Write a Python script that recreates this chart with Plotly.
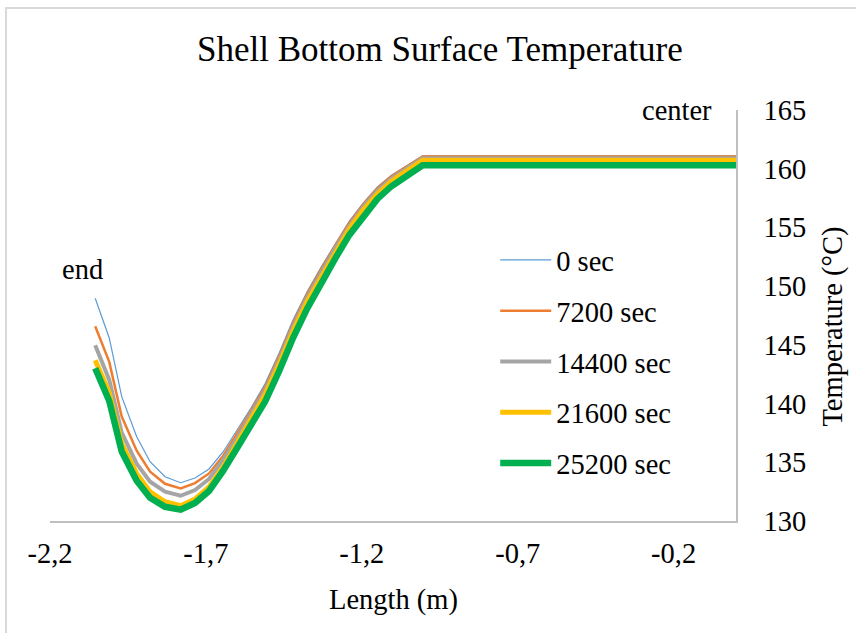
import plotly.graph_objects as go

# Position along the shell bottom (m), from the end (-2.2) to the center (0)
length_m = [-2.055, -2.010, -1.970, -1.922, -1.879, -1.831, -1.781, -1.735, -1.690,
            -1.645, -1.600, -1.555, -1.510, -1.465, -1.420, -1.375, -1.330, -1.285,
            -1.240, -1.195, -1.150, -1.105, -1.055, -1.005, 0.0]

# Surface temperature (°C) at each time step
temp_0 = [148.97, 145.59, 140.59, 137.18, 135.05, 133.77, 133.26, 133.66, 134.43,
          135.88, 137.75, 139.63, 141.70, 144.30, 147.15, 149.55, 151.65, 153.65,
          155.55, 157.10, 158.45, 159.45, 160.30, 161.10, 161.10]
temp_7200 = [146.58, 143.55, 138.89, 135.99, 134.20, 133.17, 132.78, 133.23, 134.05,
             135.54, 137.45, 139.37, 141.44, 144.04, 146.89, 149.34, 151.44, 153.48,
             155.38, 156.97, 158.32, 159.36, 160.21, 161.05, 161.05]
temp_14400 = [144.97, 142.01, 137.52, 134.88, 133.35, 132.49, 132.15, 132.64, 133.58,
              135.20, 137.07, 139.03, 141.10, 143.70, 146.55, 149.04, 151.14, 153.22,
              155.12, 156.76, 158.11, 159.15, 160.04, 160.90, 160.90]
temp_21600 = [143.69, 140.91, 136.59, 134.03, 132.49, 131.64, 131.30, 131.87, 132.90,
              134.60, 136.64, 138.61, 140.76, 143.36, 146.21, 148.70, 150.80, 152.88,
              154.87, 156.50, 157.85, 158.94, 159.79, 160.72, 160.72]
temp_25200 = [143.01, 140.22, 135.91, 133.43, 131.98, 131.21, 130.96, 131.53, 132.56,
              134.26, 136.22, 138.10, 140.17, 142.77, 145.62, 148.10, 150.29, 152.37,
              154.36, 155.99, 157.43, 158.51, 159.45, 160.30, 160.30]

series_names = ["0 sec", "7200 sec", "14400 sec", "21600 sec", "25200 sec"]
series_values = [temp_0, temp_7200, temp_14400, temp_21600, temp_25200]
series_colors = ["#5B9BD5", "#ED7D31", "#A5A5A5", "#FFC000", "#00B050"]
series_widths = [1.2, 2.5, 4, 5, 6.5]

x_tick_vals = [-2.2, -1.7, -1.2, -0.7, -0.2]
x_tick_text = ["-2,2", "-1,7", "-1,2", "-0,7", "-0,2"]
y_tick_vals = [130, 135, 140, 145, 150, 155, 160, 165]

FONT = "Liberation Serif, Times New Roman, serif"
AXIS_GRAY = "#BFBFBF"

fig = go.Figure()
for name, vals, color, width in zip(series_names, series_values, series_colors, series_widths):
    fig.add_trace(go.Scatter(
        x=length_m, y=vals, mode="lines", name=name, legendgroup=name,
        line=dict(color=color, width=width),
    ))

fig.update_layout(
    width=856, height=633,
    margin=dict(l=50, r=120, t=110, b=112),
    paper_bgcolor="white", plot_bgcolor="white",
    font=dict(family=FONT, color="black", size=28.5),
    showlegend=True,
    legend=dict(
        x=0.649, y=0.696, xanchor="left", yanchor="top",
        font=dict(family=FONT, size=28.5, color="black"),
        bgcolor="rgba(0,0,0,0)", tracegroupgap=10.7, itemwidth=51,
    ),
    xaxis=dict(
        range=[-2.2, 0.0], tickvals=x_tick_vals, ticktext=x_tick_text,
        showgrid=False, zeroline=False, showline=True, linecolor=AXIS_GRAY, linewidth=1.5,
        ticks="outside", ticklen=6, tickcolor="rgba(0,0,0,0)",
        tickfont=dict(family=FONT, size=28.5, color="black"),
    ),
    yaxis=dict(
        range=[130, 165], tickvals=y_tick_vals, side="right",
        showgrid=False, zeroline=False, showline=True, linecolor=AXIS_GRAY, linewidth=1.5,
        ticks="outside", ticklen=20, tickcolor="rgba(0,0,0,0)",
        tickfont=dict(family=FONT, size=28.5, color="black"),
    ),
    shapes=[dict(
        type="rect", xref="paper", yref="paper",
        x0=-0.0641, y0=-0.35, x1=1.3, y1=1.248,
        line=dict(color="#D9D9D9", width=2), fillcolor="rgba(0,0,0,0)", layer="below",
    )],
    annotations=[
        dict(text="Shell Bottom Surface Temperature", xref="paper", yref="paper",
             x=0.5685, y=1.146, xanchor="center", yanchor="middle", showarrow=False,
             font=dict(family=FONT, size=35, color="black")),
        dict(text="Length (m)", xref="paper", yref="paper",
             x=0.5, y=-0.192, xanchor="center", yanchor="middle", showarrow=False,
             font=dict(family=FONT, size=28.5, color="black")),
        dict(text="Temperature (°C)", xref="paper", yref="paper", textangle=-90,
             x=1.1414, y=0.473, xanchor="center", yanchor="middle", showarrow=False,
             font=dict(family=FONT, size=28.5, color="black")),
        dict(text="end", xref="paper", yref="paper",
             x=0.048, y=0.611, xanchor="center", yanchor="middle", showarrow=False,
             font=dict(family=FONT, size=28.5, color="black")),
        dict(text="center", xref="paper", yref="paper",
             x=0.914, y=1.0, xanchor="center", yanchor="middle", showarrow=False,
             font=dict(family=FONT, size=28.5, color="black")),
    ],
)

fig.write_html("out.html")
